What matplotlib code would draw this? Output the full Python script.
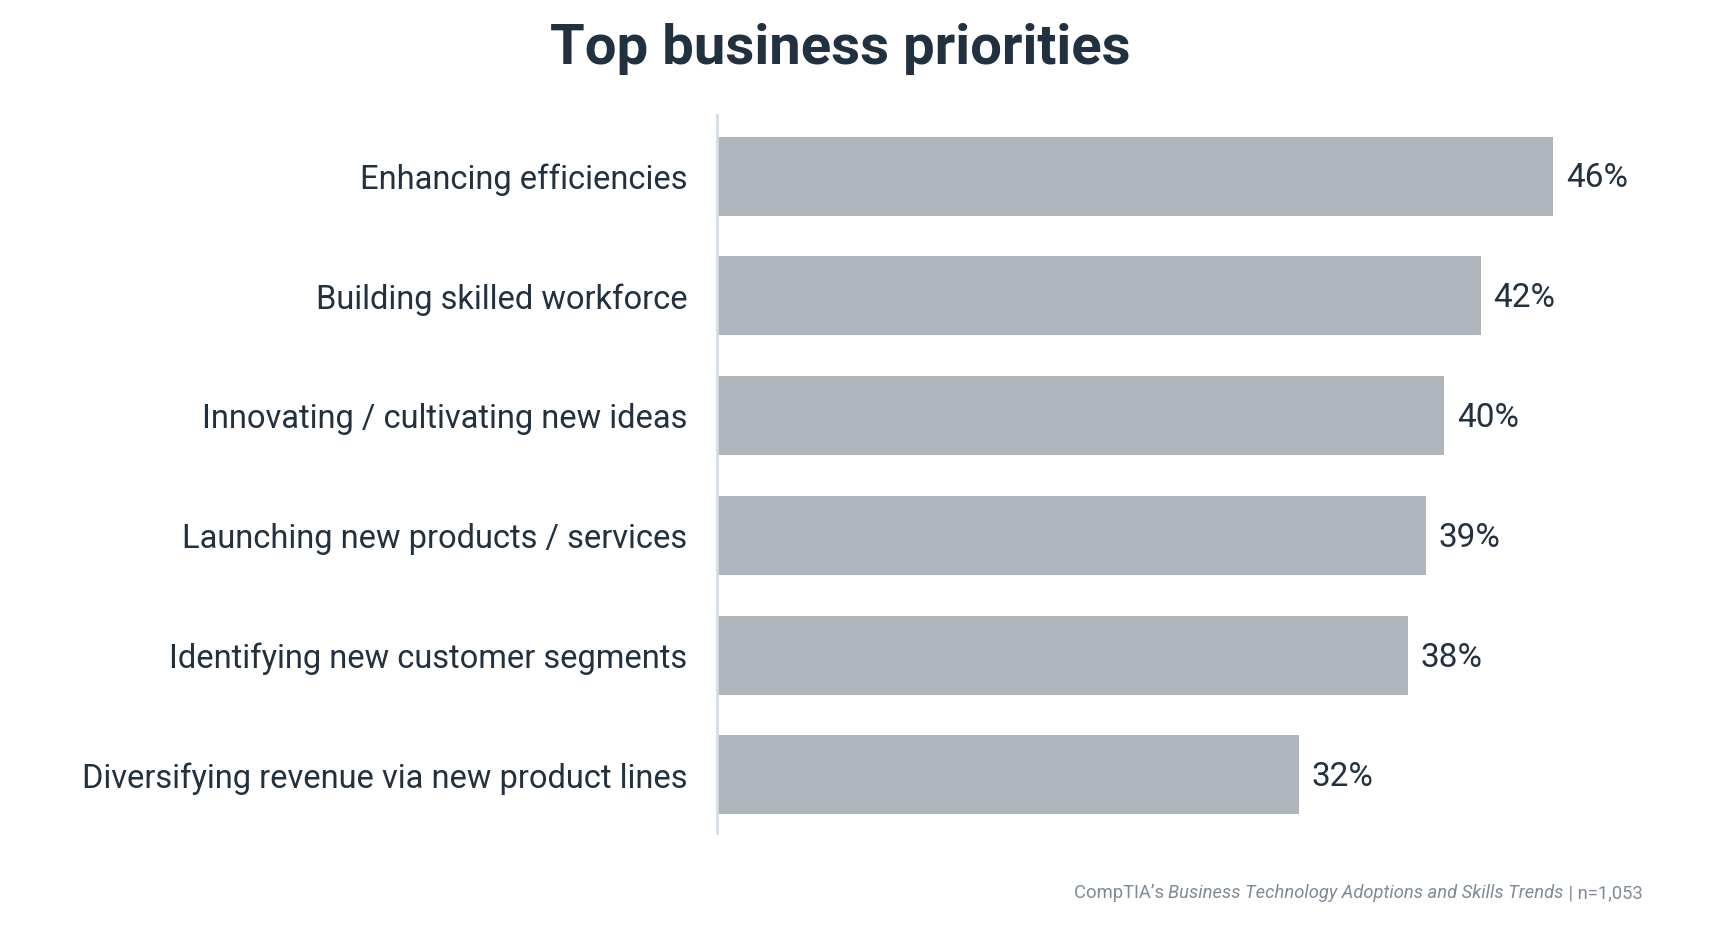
import matplotlib
matplotlib.use("Agg")
import matplotlib.pyplot as plt

plt.rcParams['font.family'] = ['Roboto', 'DejaVu Sans']

categories = ['Enhancing efficiencies', 'Building skilled workforce',
              'Innovating / cultivating new ideas', 'Launching new products / services',
              'Identifying new customer segments', 'Diversifying revenue via new product lines']
values = [46, 42, 40, 39, 38, 32]

dark = '#22313f'
bar_color = '#aeb5bc'

fig = plt.figure(figsize=(17.2, 9.4), dpi=100)
ax = fig.add_axes([717 / 1720, 1 - 833 / 940, 909 / 1720, (833 - 115) / 940])

y = list(range(len(categories)))
ax.barh(y, values, height=0.66, color=bar_color)
ax.set_ylim(len(categories) - 0.515, -0.51)
ax.set_xlim(0, 50)

for yi, v in zip(y, values):
    ax.text(v + 0.7, yi + 0.02, f'{v}%', va='center', ha='left', fontsize=24, color=dark)

ax.set_yticks(y)
ax.set_yticklabels(categories, fontsize=23.5, color=dark)
ax.tick_params(axis='y', length=0, pad=21.5)
ax.set_xticks([])
for s in ['top', 'right', 'bottom']:
    ax.spines[s].set_visible(False)
ax.spines['left'].set_color('#d5dde6')
ax.spines['left'].set_linewidth(2)

fig.text(840.5 / 1720, 1 - 49 / 940, 'Top business priorities', ha='center', va='center',
         fontsize=40.5, fontweight='bold', color=dark)

# footer, built right to left so the italic piece sits in between
renderer = fig.canvas.get_renderer()
foot_color = '#7f8a96'
x_right = 1642.5
fy = 1 - 893 / 940
fs = 13.2
t3 = fig.text(x_right / 1720, fy, ' | n=1,053', ha='right', va='center', fontsize=fs, color=foot_color)
w3 = t3.get_window_extent(renderer).width
t2 = fig.text((x_right - w3) / 1720, fy, 'Business Technology Adoptions and Skills Trends', ha='right',
              va='center', fontsize=fs, style='italic', color=foot_color)
w2 = t2.get_window_extent(renderer).width
fig.text((x_right - w3 - w2) / 1720, fy, 'CompTIA\u2019s ', ha='right', va='center', fontsize=fs,
         color=foot_color)

fig.savefig('out.png', dpi=100)
